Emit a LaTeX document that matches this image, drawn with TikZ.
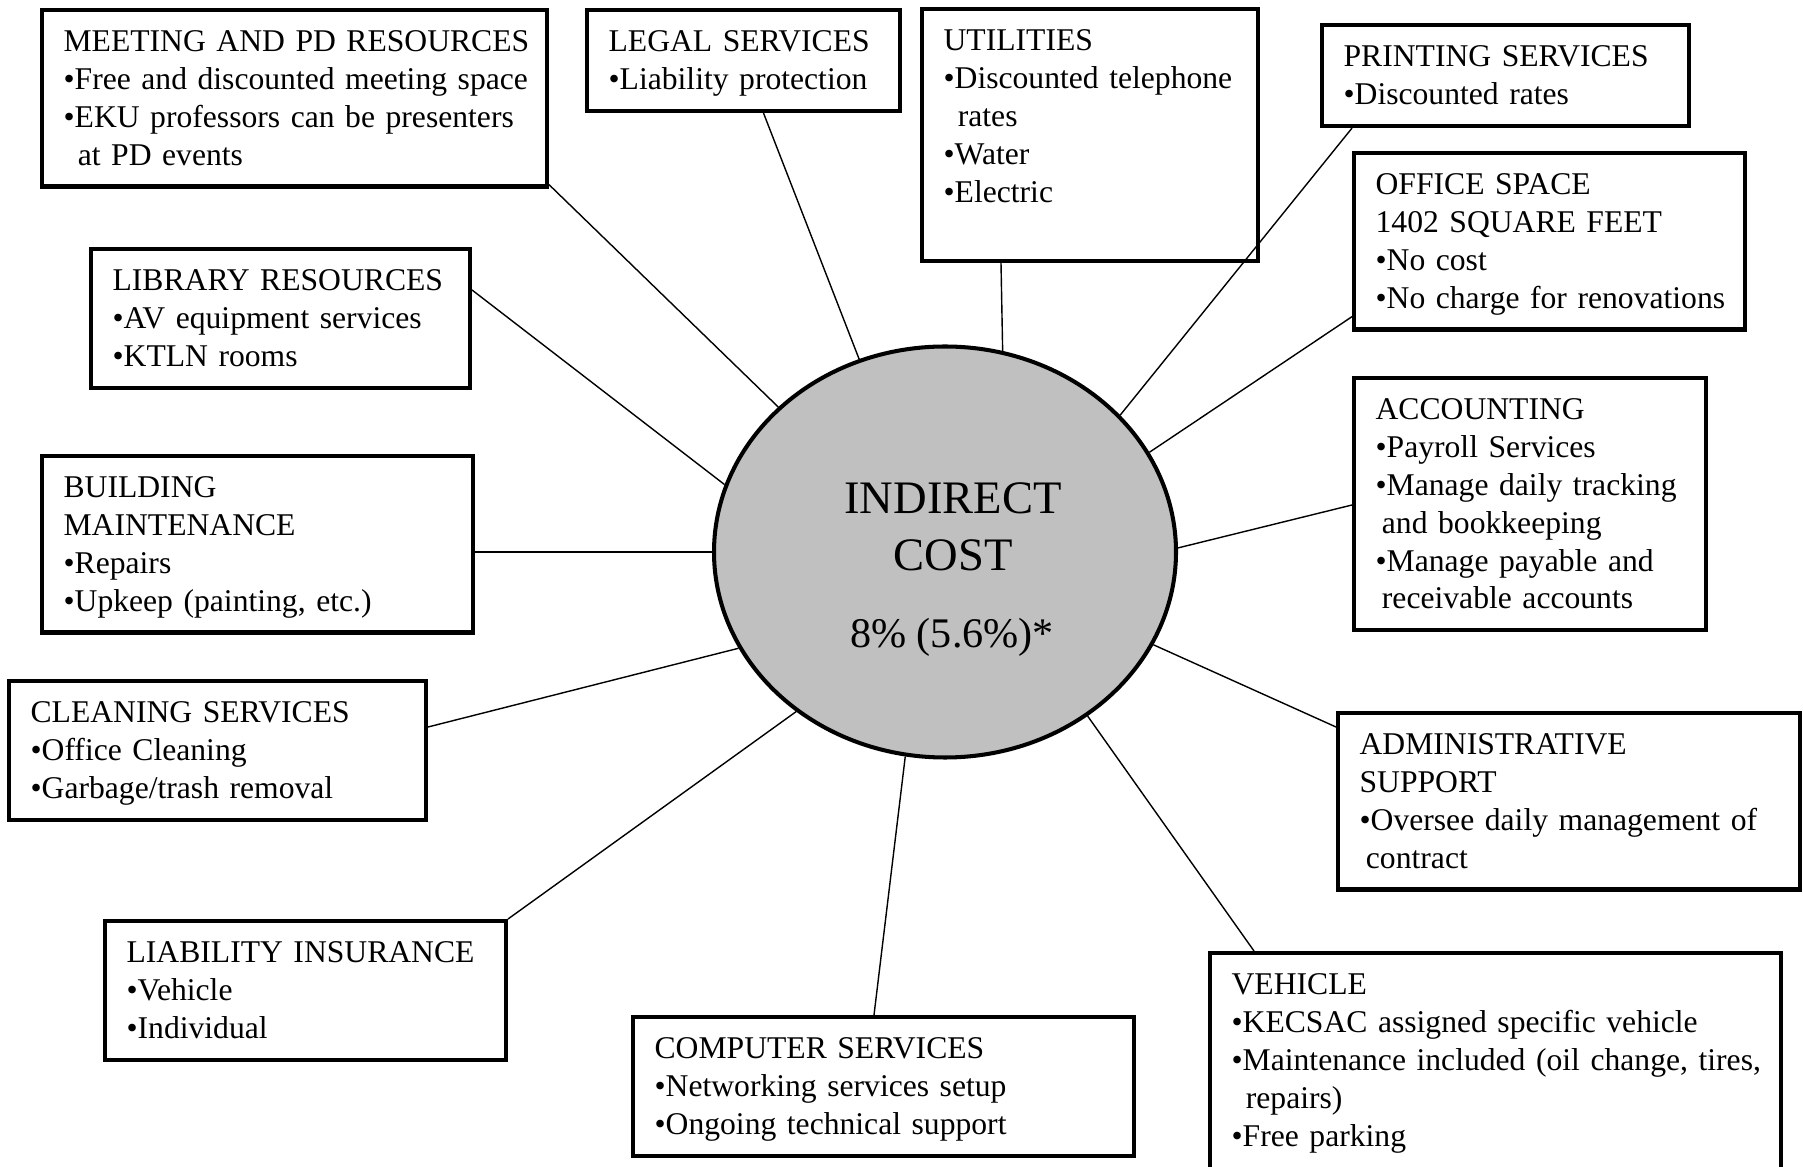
\documentclass[tikz,border=0pt]{standalone}
\usepackage{fontspec}
\setmainfont{Liberation Serif}
\usepackage{tikz}
\usetikzlibrary{shapes.geometric}
\definecolor{ovalgray}{RGB}{192,192,192}
\newcommand{\wrapind}[1][0.45em]{\hspace*{#1}}

\begin{document}
\begin{tikzpicture}[
  service/.style={draw=black, line width=2.4pt, anchor=north west, align=left,
    inner xsep=0.28cm, inner ysep=6.9pt,
    font=\fontsize{18}{21.5}\selectfont,
    execute at begin node={\leftskip=0.15cm\rule{0pt}{16.9pt}},
    execute at end node={\rule[-5.2pt]{0pt}{5.2pt}}},
  spoke/.style={black, line width=0.8pt}]
\useasboundingbox (0,0) rectangle (36.06,23.32);
\fill[white] (0,0) rectangle (36.06,23.32);

% centre
\node[ellipse, draw=black, line width=2.3pt, fill=ovalgray, minimum width=9.24cm,
  minimum height=8.22cm, inner sep=0pt] (cost) at (18.9,12.28) {};
\node[font=\fontsize{26.5}{32.4}\selectfont, align=center, anchor=north, inner sep=0pt]
  (costname) at (19.06,13.68) {INDIRECT\\COST};
\node[font=\fontsize{24}{28}\selectfont, anchor=base, inner sep=0pt]
  (costrate) at (19.04,10.36) {8\% (5.6\%)*};

% boxes
\node[service, text width=9.536cm] (meeting) at (0.8,23.16)
  {MEETING AND PD RESOURCES\\•Free and discounted meeting space\\•EKU professors can be presenters\\\wrapind at PD events};
\node[service, text width=5.696cm] (legal) at (11.7,23.16)
  {LEGAL SERVICES\\•Liability protection};
\node[service, text width=6.156cm] (utilities) at (18.4,23.18)
  {UTILITIES\\•Discounted telephone\\\wrapind rates\\•Water\\•Electric\\\mbox{}};
\node[service, text width=6.776cm] (printing) at (26.4,22.86)
  {PRINTING SERVICES\\•Discounted rates};
\node[service, text width=7.256cm] (office) at (27.04,20.3)
  {OFFICE SPACE\\1402 SQUARE FEET\\•No cost\\•No charge for renovations};
\node[service, text width=6.476cm] (accounting) at (27.04,15.8)
  {ACCOUNTING\\•Payroll Services\\•Manage daily tracking\\\wrapind[0.2em]and bookkeeping\\•Manage payable and\\\wrapind[0.2em]receivable accounts};
\node[service, text width=8.676cm] (admin) at (26.72,9.1)
  {ADMINISTRATIVE\\SUPPORT\\•Oversee daily management of\\\wrapind[0.2em]contract};
\node[service, text width=10.856cm, execute at end node={\rule[-10pt]{0pt}{10pt}}] (vehicle) at (24.16,4.3)
  {VEHICLE\\•KECSAC assigned specific vehicle\\•Maintenance included (oil change, tires,\\\wrapind repairs)\\•Free parking};
\node[service, text width=9.456cm] (computer) at (12.62,3.02)
  {COMPUTER SERVICES\\•Networking services setup\\•Ongoing technical support};
\node[service, text width=7.456cm] (liability) at (2.06,4.94)
  {LIABILITY INSURANCE\\•Vehicle\\•Individual};
\node[service, text width=7.776cm] (cleaning) at (0.14,9.74)
  {CLEANING SERVICES\\•Office Cleaning\\•Garbage/trash removal};
\node[service, text width=8.056cm] (building) at (0.8,14.24)
  {BUILDING\\MAINTENANCE\\•Repairs\\•Upkeep (painting, etc.)};
\node[service, text width=7.016cm] (library) at (1.78,18.38)
  {LIBRARY RESOURCES\\•AV equipment services\\•KTLN rooms};

% spokes
\draw[spoke] ([yshift=0.08cm]meeting.south east) -- (cost.139);
\draw[spoke] ([xshift=3.57cm]legal.south west) -- (cost.114);
\draw[spoke] ([xshift=1.62cm]utilities.south west) -- (cost.74);
\draw[spoke] ([xshift=0.64cm]printing.south west) -- (cost.38);
\draw[spoke] ([yshift=0.3cm]office.south west) -- (cost.26);
\draw[spoke] ([yshift=-2.58cm]accounting.north west) -- (cost.1);
\draw[spoke] ([yshift=-0.32cm]admin.north west) -- (cost.-24);
\draw[spoke] ([xshift=0.92cm]vehicle.north west) -- (cost.-49);
\draw[spoke] ([xshift=4.86cm]computer.north west) -- (cost.-101);
\draw[spoke] (liability.north east) -- (cost.-133.5);
\draw[spoke] ([yshift=-0.96cm]cleaning.north east) -- (cost.-155);
\draw[spoke] (cost.west -| building.east) -- (cost.west);
\draw[spoke] ([yshift=-0.86cm]library.north east) -- (cost.163);
\end{tikzpicture}
\end{document}
